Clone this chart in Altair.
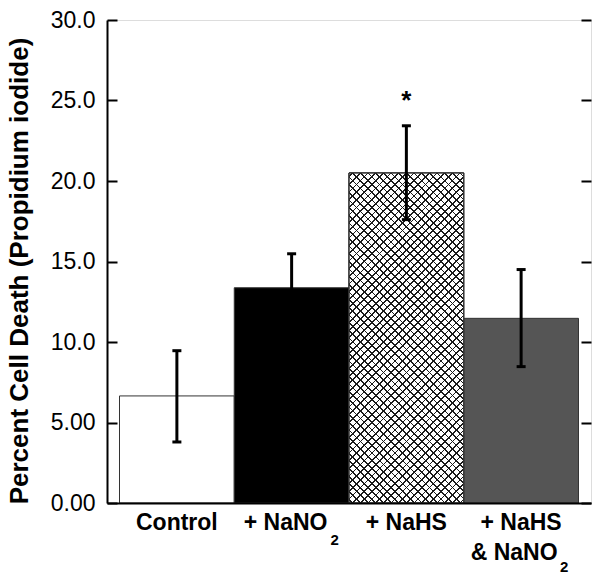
import altair as alt
import pandas as pd

# ---- data ----
categories = ["Control", "+ NaNO2", "+ NaHS", "+ NaHS & NaNO2"]
means = [6.65, 13.37, 20.5, 11.47]
err_low = [3.79, 11.26, 17.6, 8.47]
err_high = [9.46, 15.48, 23.43, 14.5]
fills = ["#ffffff", "#000000", "#ffffff", "#555555"]

# label pieces (line 1, line 2, subscripts)
line1_plain = ["Control", "+ NaHS", "+ NaHS"]
line1_plain_cat = ["Control", "+ NaHS", "+ NaHS & NaNO2"]
line1_sub = ["+ NaNO"]
line1_sub_cat = ["+ NaNO2"]
line2_text = ["& NaNO"]
line2_cat = ["+ NaHS & NaNO2"]
sub_cat_1 = ["+ NaNO2"]
sub_cat_2 = ["+ NaHS & NaNO2"]

star_cat = ["+ NaHS"]
star_y = [24.5]

y_ticks = [0, 5, 10, 15, 20, 25, 30]

W, H = 484, 483
FONT = "Liberation Sans"

df = pd.DataFrame({"cat": categories, "mean": means, "lo": err_low,
                   "hi": err_high, "fill": fills})

xscale = alt.Scale(domain=categories, paddingInner=0, paddingOuter=0.109)
yscale = alt.Scale(domain=[0, 30], nice=False, zero=True)

X = alt.X("cat:N", scale=xscale, sort=categories,
          axis=alt.Axis(labels=False, ticks=False, title=None, domain=True,
                        domainColor="black", domainWidth=2, zindex=1))
Y = alt.Y("mean:Q", scale=yscale,
          axis=alt.Axis(values=y_ticks,
                        labelExpr="datum.value == 0 ? '0.00' : format(datum.value, '.3r')",
                        title="Percent Cell Death (Propidium iodide)",
                        titleFont=FONT, titleFontSize=26, titleFontWeight="bold",
                        titleColor="black", titleAngle=-90, titleAlign="center",
                        titleBaseline="alphabetic", titleX=-80, titleY=H / 2 + 9,
                        titleLimit=2000,
                        labelFont=FONT, labelFontSize=23, labelColor="black",
                        labelPadding=12, ticks=False, tickSize=0,
                        grid=True, gridColor="black", gridWidth=2,
                        gridDash=[10, W - 20], gridOpacity=1,
                        domain=True, domainColor="black", domainWidth=2, zindex=1))

bars = alt.Chart(df).mark_bar(stroke="#333333", strokeWidth=1).encode(
    x=X, y=Y, fill=alt.Fill("fill:N", scale=None)
)

# cross-hatch for the NaHS bar, built as two striped gradients
hatch_val = means[categories.index("+ NaHS")]
bw = W / (len(categories) + 2 * 0.109)
bh = hatch_val / 30 * H
period = 5.4
n = int(round((bw + bh) / 2 ** 0.5 / period))
hw = 0.6 / ((bw + bh) / 2 ** 0.5)


def stripes(bg, fg):
    stops = [{"offset": 0, "color": bg}]
    for i in range(n):
        c = (i + 0.5) / n
        stops += [{"offset": c - hw, "color": bg}, {"offset": c - hw, "color": fg},
                  {"offset": c + hw, "color": fg}, {"offset": c + hw, "color": bg}]
    stops.append({"offset": 1, "color": bg})
    return stops


p = bw / bh
k = (p + 1) / (p * p + 1)
g1 = {"gradient": "linear", "x1": 0, "y1": 0, "x2": p * k, "y2": k,
      "stops": stripes("#ffffff", "#1a1a1a")}
g2 = {"gradient": "linear", "x1": 0, "y1": 1, "x2": p * k, "y2": 1 - k,
      "stops": stripes("rgba(0,0,0,0)", "#1a1a1a")}

hdf = df[df["cat"] == "+ NaHS"]
hatch1 = alt.Chart(hdf).mark_bar(fill=g1, stroke="#333333", strokeWidth=1).encode(
    x=alt.X("cat:N", scale=xscale, sort=categories), y=alt.Y("mean:Q", scale=yscale))
hatch2 = alt.Chart(hdf).mark_bar(fill=g2, stroke="#333333", strokeWidth=1).encode(
    x=alt.X("cat:N", scale=xscale, sort=categories), y=alt.Y("mean:Q", scale=yscale))

err = alt.Chart(df).mark_rule(color="black", strokeWidth=3).encode(
    x=alt.X("cat:N", scale=xscale, sort=categories),
    y=alt.Y("lo:Q", scale=yscale), y2="hi:Q")
cap_lo = alt.Chart(df).mark_tick(color="black", size=9, thickness=3, opacity=1).encode(
    x=alt.X("cat:N", scale=xscale, sort=categories), y=alt.Y("lo:Q", scale=yscale))
cap_hi = alt.Chart(df).mark_tick(color="black", size=9, thickness=3, opacity=1).encode(
    x=alt.X("cat:N", scale=xscale, sort=categories), y=alt.Y("hi:Q", scale=yscale))

star = alt.Chart(pd.DataFrame({"cat": star_cat, "y": star_y, "t": ["*"]})).mark_text(
    font=FONT, fontSize=26, fontWeight="bold", color="black", baseline="alphabetic"
).encode(x=alt.X("cat:N", scale=xscale, sort=categories),
         y=alt.Y("y:Q", scale=yscale), text="t:N")


def label_layer(cats, texts, dx, ypix, size):
    d = pd.DataFrame({"cat": cats, "t": texts})
    return alt.Chart(d).mark_text(
        font=FONT, fontSize=size, fontWeight="bold", color="black",
        baseline="alphabetic", align="center", dx=dx
    ).encode(x=alt.X("cat:N", scale=xscale, sort=categories),
             y=alt.value(ypix), text="t:N")


lab1 = label_layer(line1_plain_cat, line1_plain, 0, H + 27, 23)
lab1b = label_layer(line1_sub_cat, line1_sub, -6, H + 27, 23)
lab2 = label_layer(line2_cat, line2_text, -7, H + 57, 23)
sub1 = label_layer(sub_cat_1, ["2"], 43, H + 42, 15)
sub2 = label_layer(sub_cat_2, ["2"], 43, H + 69, 15)

chart = alt.layer(bars, hatch1, hatch2, err, cap_lo, cap_hi, star,
                  lab1, lab1b, lab2, sub1, sub2).properties(
    width=W, height=H,
    autosize=alt.AutoSizeParams(type="none"),
    padding={"left": 99, "top": 12, "right": 2, "bottom": 71},
).configure_view(stroke="black", strokeWidth=2).configure(background="white")

chart.save("out.html", embed_options={"renderer": "svg", "actions": False})
